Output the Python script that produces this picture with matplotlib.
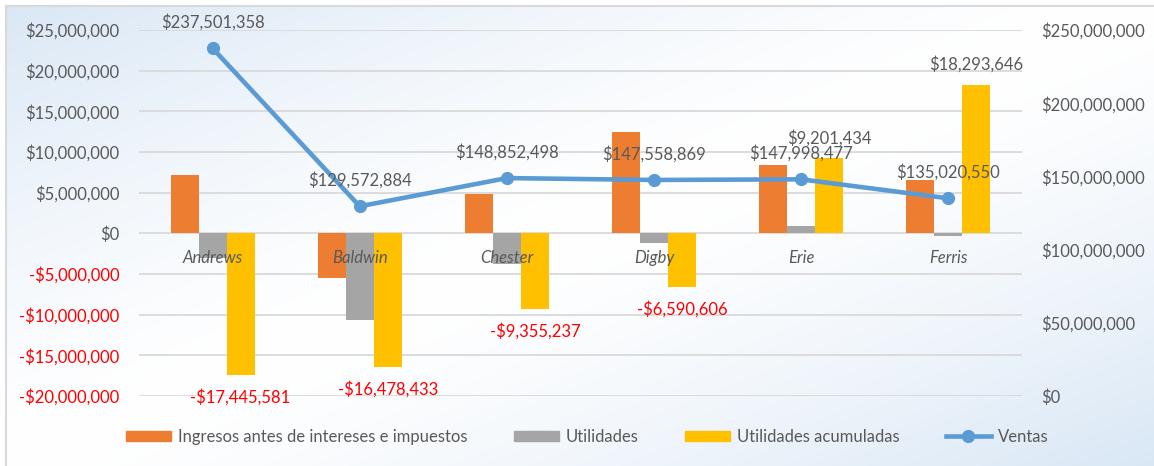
import numpy as np
import matplotlib
matplotlib.use("Agg")
import matplotlib.pyplot as plt
from matplotlib.patches import Patch
from matplotlib.lines import Line2D
from matplotlib.ticker import FuncFormatter, MultipleLocator

# ---- data ----
categories = ["Andrews", "Baldwin", "Chester", "Digby", "Erie", "Ferris"]
ebit = [7_200_000, -5_500_000, 4_800_000, 12_400_000, 8_400_000, 6_600_000]
utilidades = [-3_000_000, -10_700_000, -3_800_000, -1_250_000, 950_000, -300_000]
util_acum = [-17_445_581, -16_478_433, -9_355_237, -6_590_606, 9_201_434, 18_293_646]
ventas = [237_501_358, 129_572_884, 148_852_498, 147_558_869, 147_998_477, 135_020_550]
series_names = ["Ingresos antes de intereses e impuestos", "Utilidades",
                "Utilidades acumuladas", "Ventas"]

C_ORANGE = "#ED7D31"
C_GRAY = "#A5A5A5"
C_YELLOW = "#FFC000"
C_BLUE = "#5B9BD5"
C_TEXT = "#595959"
C_RED = "#FF0000"
FONT = "Lato"
FS = 12

plt.rcParams["font.family"] = [FONT, "DejaVu Sans"]

W, H = 1154, 466
fig = plt.figure(figsize=(W / 100, H / 100), dpi=100)

# background gradient
bg = fig.add_axes([0, 0, 1, 1], zorder=-10)
bg.set_axis_off()
yy, xx = np.mgrid[0:H, 0:W]
t = (xx / W + yy / H) / 2.0
s = np.abs(2 * t - 1) ** 1.4
white = np.array([1.0, 1.0, 1.0])
blue = np.array([0xD9, 0xE7, 0xF5]) / 255.0
img = white[None, None, :] + (blue - white)[None, None, :] * s[..., None]
img[:6, :, :] = 1.0
img[:, :6, :] = 1.0
bg.imshow(img, extent=[0, W, H, 0], aspect="auto", interpolation="bilinear")
bg.set_xlim(0, W)
bg.set_ylim(H, 0)
bg.plot([6, 6], [6, H], color="#D9D9D9", lw=1.5)
bg.plot([6, W], [6, 6], color="#D9D9D9", lw=1.5)

left, right = 139 / W, 1022 / W
bottom, top = (H - 396) / H, (H - 30) / H
ax = fig.add_axes([left, bottom, right - left, top - bottom])
ax.set_facecolor("none")
ax2 = ax.twinx()
ax2.set_facecolor("none")

x = np.arange(len(categories))
bw = 0.19
ax.bar(x - bw, ebit, bw, color=C_ORANGE, zorder=3)
ax.bar(x, utilidades, bw, color=C_GRAY, zorder=3)
ax.bar(x + bw, util_acum, bw, color=C_YELLOW, zorder=3)

ax.set_xlim(-0.5, len(categories) - 0.5)
ax.set_ylim(-20_000_000, 25_000_000)
ax.yaxis.set_major_locator(MultipleLocator(5_000_000))
ax.grid(axis="y", color="#D9D9D9", lw=1.3, zorder=0)
ax.set_axisbelow(True)
ax.set_xticks([])
for sp in ax.spines.values():
    sp.set_visible(False)
for sp in ax2.spines.values():
    sp.set_visible(False)

def money(v, pos=None):
    if v < 0:
        return "-${:,.0f}".format(-v)
    return "${:,.0f}".format(v)

ax.yaxis.set_major_formatter(FuncFormatter(money))
ax.tick_params(axis="y", length=0, pad=14, labelsize=FS, labelcolor=C_TEXT)
for lbl, val in zip(ax.get_yticklabels(), ax.get_yticks()):
    if val < 0:
        lbl.set_color(C_RED)

# category labels at zero line
for xi, name in zip(x, categories):
    ax.annotate(name, (xi, 0), xytext=(0, -25), textcoords="offset pixels",
                ha="center", va="center", fontsize=FS, style="italic",
                color=C_TEXT, zorder=6)

# yellow bar labels
for xi, v in zip(x, util_acum):
    off = 20 if v > 0 else -22
    ax.annotate(money(v), (xi + bw, v), xytext=(0, off), textcoords="offset pixels",
                ha="center", va="center", fontsize=FS,
                color=C_TEXT if v > 0 else C_RED, zorder=6)

# line on secondary axis
ax2.plot(x, ventas, color=C_BLUE, lw=3.3, marker="o", markersize=8.5, zorder=5,
         solid_capstyle="round")
ax2.set_ylim(0, 250_000_000)
ax2.yaxis.set_major_locator(MultipleLocator(50_000_000))
ax2.yaxis.set_major_formatter(FuncFormatter(money))
ax2.tick_params(axis="y", length=0, pad=14, labelsize=FS, labelcolor=C_TEXT)
for xi, v in zip(x, ventas):
    ax2.annotate(money(v), (xi, v), xytext=(0, 26), textcoords="offset pixels",
                 ha="center", va="center", fontsize=FS, color=C_TEXT, zorder=7)

handles = [Patch(color=C_ORANGE), Patch(color=C_GRAY), Patch(color=C_YELLOW),
           Line2D([], [], color=C_BLUE, lw=3.3, marker="o", markersize=8.5)]
fig.legend(handles, series_names, loc="center", bbox_to_anchor=(587 / W, 29 / H),
           ncol=4, frameon=False, fontsize=FS, handlelength=2.7, handleheight=0.6,
           handletextpad=0.4, columnspacing=2.8, labelcolor=C_TEXT)

fig.savefig("out.png", dpi=100)
